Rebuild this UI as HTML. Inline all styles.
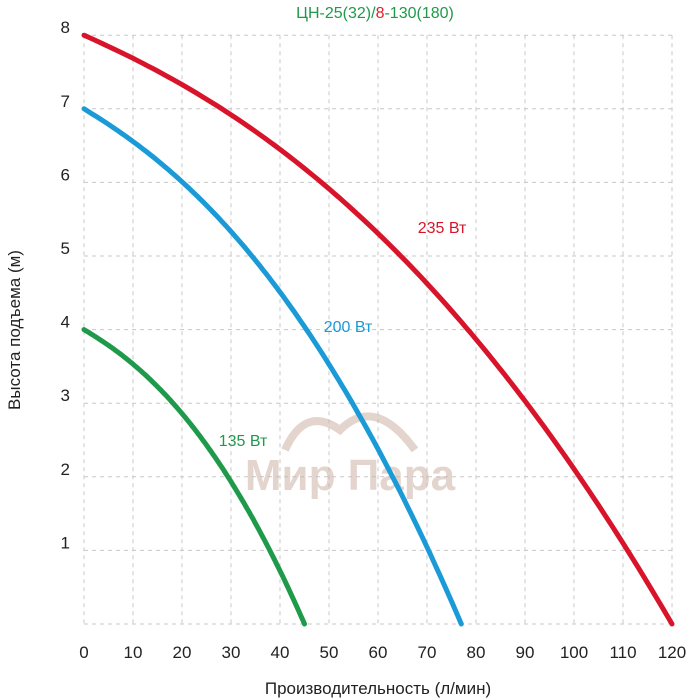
<!DOCTYPE html>
<html><head><meta charset="utf-8"><style>
html,body{margin:0;padding:0;background:#fff;width:700px;height:700px;overflow:hidden}
text{font-family:"Liberation Sans","DejaVu Sans",sans-serif}
</style></head><body>
<svg id="s" width="700" height="700" xmlns="http://www.w3.org/2000/svg">
<g id="grid" stroke="#c8c8c8" stroke-width="1" stroke-dasharray="4,4"></g>
<g opacity="0.55">
<path d="M285 450 Q305 405 340 430 Q375 395 415 450" fill="none" stroke="#cdb3a6" stroke-width="8"/>
<text x="350" y="490" font-size="44" font-weight="bold" fill="#cdb3a6" text-anchor="middle">Мир Пара</text>
</g>
<g id="curves" fill="none" stroke-width="5" stroke-linecap="round"></g>
<text x="375" y="18" font-size="16" fill="#1e9a4a" text-anchor="middle">ЦН-25(32)/<tspan fill="#e0202a">8</tspan>-130(180)</text>
<text x="442" y="233" font-size="16" fill="#d8142a" text-anchor="middle">235 Вт</text>
<text x="348" y="332" font-size="16" fill="#1a9ad6" text-anchor="middle">200 Вт</text>
<text x="243" y="446" font-size="16" fill="#1e9a4a" text-anchor="middle">135 Вт</text>
<text x="378" y="694" font-size="17" fill="#222" text-anchor="middle">Производительность (л/мин)</text>
<text transform="translate(20,330) rotate(-90)" font-size="17" fill="#222" text-anchor="middle">Высота подъема (м)</text>
<g id="lbl" font-size="17" fill="#222"></g>
</svg>
<script>
var ns="http://www.w3.org/2000/svg";
function X(q){return 84+q*4.9}
function Y(h){return 624-h*73.6}
var g=document.getElementById('grid'),l=document.getElementById('lbl');
function el(p,tag,a,t){var e=document.createElementNS(ns,tag);for(var k in a)e.setAttribute(k,a[k]);if(t!=null)e.textContent=t;p.appendChild(e);return e}
for(var q=0;q<=120;q+=10){el(g,'line',{x1:X(q),x2:X(q),y1:Y(8),y2:Y(0)});el(l,'text',{x:X(q),y:658,'text-anchor':'middle'},q)}
for(var h=0;h<=8;h++){el(g,'line',{x1:X(0),x2:X(120),y1:Y(h),y2:Y(h)});if(h>0)el(l,'text',{x:70,y:Y(h)-2,'text-anchor':'end'},h)}
var c=document.getElementById('curves');
[[8,120,'#d8142a',0.45,2.3],[7,77,'#1a9ad6',0.45,2.3],[4,45,'#1e9a4a',0.45,2.3]].forEach(function(s){
var p=[];for(var i=0;i<=120;i++){var t=i/120,q=s[1]*t;var d=s[3]*t+(1-s[3])*Math.pow(t,s[4]);p.push(X(q).toFixed(1)+','+Y(s[0]*(1-d)).toFixed(1))}
el(c,'polyline',{points:p.join(' '),stroke:s[2]})});
</script>
</body></html>
